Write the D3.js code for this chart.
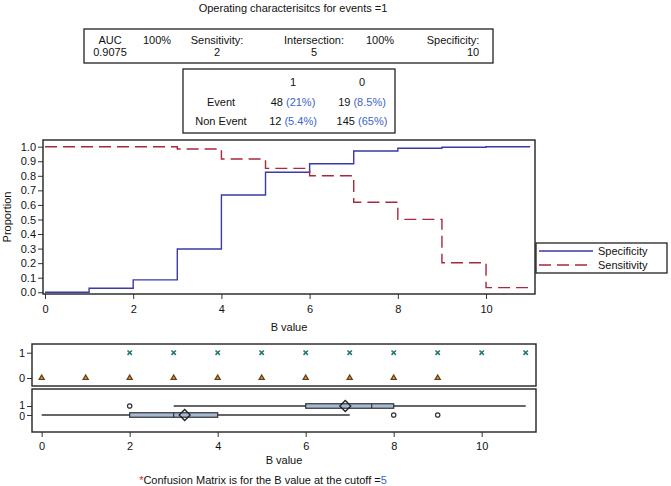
<!DOCTYPE html>
<html><head><meta charset="utf-8">
<script src="https://cdn.jsdelivr.net/npm/d3@7"></script>
<style>
body{margin:0;background:#fff;}
text{font-family:"Liberation Sans",Arial,Helvetica,sans-serif;font-size:11px;fill:#111;}
</style></head>
<body><svg id="c" width="671" height="486"></svg>
<script>
// ---- data ----
const cutpoints = [0,1,2,3,4,5,6,7,8,9,10,11];
const specificity = [0.0,0.027,0.085,0.297,0.668,0.824,0.883,0.970,0.989,0.996,1.0];
const sensitivity = [1.0,1.0,1.0,0.984,0.915,0.851,0.80,0.618,0.501,0.203,0.032];
const yTicks = [0,0.1,0.2,0.3,0.4,0.5,0.6,0.7,0.8,0.9,1.0];
const xTicks = [0,2,4,6,8,10];
const eventValues = [2,3,4,5,6,7,8,9,10,11];     // group 1 observed B values
const nonEventValues = [0,1,2,3,4,5,6,7,8,9];    // group 0 observed B values
const groups = ["1","0"];
const boxStats = [
  {g:1, min:3, q1:6, med:7.5, q3:8, max:11, mean:6.9, outliers:[2]},
  {g:0, min:0, q1:2, med:3, q3:4, max:7, mean:3.25, outliers:[8,9]}
];
const aucRow1 = ["AUC","100%","Sensitivity:","Intersection:","100%","Specificity:"];
const aucRow2 = ["0.9075","","2","5","","10"];
const cmHeader = ["","1","0"];
const cmRows = [
  {label:"Event", cells:[["48","21%"],["19","8.5%"]]},
  {label:"Non Event", cells:[["12","5.4%"],["145","65%"]]}
];
const legendItems = ["Specificity","Sensitivity"];
const cutoff = 5;

const svg = d3.select("#c");
const blue="#3a3aa8", red="#a8283c", txtBlue="#3c64c8";

// ---- title ----
svg.append("text").attr("x",293).attr("y",12).attr("text-anchor","middle")
  .text("Operating characterisitcs for events =1");

// ---- AUC box ----
svg.append("rect").attr("x",84).attr("y",29).attr("width",409).attr("height",34)
  .attr("fill","none").attr("stroke","#222").attr("stroke-width",1.3);
const aucX1 = [110,157,217,314,380,453];
const aucX2 = [110,157,217,314,380,473];
aucRow1.forEach((t,i)=>svg.append("text").attr("x",aucX1[i]).attr("y",44).attr("text-anchor","middle").text(t));
aucRow2.forEach((t,i)=>{ if(t) svg.append("text").attr("x",aucX2[i]).attr("y",56).attr("text-anchor","middle").text(t);});

// ---- confusion matrix ----
svg.append("rect").attr("x",183).attr("y",69).attr("width",212).attr("height",64)
  .attr("fill","none").attr("stroke","#222").attr("stroke-width",1.3);
const cmX=[221,293,362];
cmHeader.forEach((t,i)=>{ if(t) svg.append("text").attr("x",cmX[i]).attr("y",86).attr("text-anchor","middle").text(t);});
cmRows.forEach((r,ri)=>{
  const y = 106 + ri*18.5;
  svg.append("text").attr("x",cmX[0]).attr("y",y).attr("text-anchor","middle").text(r.label);
  r.cells.forEach((c,ci)=>{
    const t = svg.append("text").attr("x",cmX[ci+1]).attr("y",y).attr("text-anchor","middle");
    t.append("tspan").text(c[0]+" ");
    t.append("tspan").style("fill",txtBlue).text("("+c[1]+")");
  });
});

// ---- main plot ----
const x = d3.scaleLinear().domain([-0.045,11.11]).range([43,535]);
const y = d3.scaleLinear().domain([-0.012,1.046]).range([294,140]);
const gx = svg.append("g").attr("transform","translate(0,294)")
  .call(d3.axisBottom(x).tickValues(xTicks).tickFormat(d3.format("d")).tickSizeOuter(0).tickSize(5).tickPadding(4));
const gy = svg.append("g").attr("transform","translate(43,0)")
  .call(d3.axisLeft(y).tickValues(yTicks).tickFormat(d3.format(".1f")).tickSizeOuter(0).tickSize(5).tickPadding(2));
[gx,gy].forEach(g=>{g.select(".domain").remove();g.selectAll("line").attr("stroke","#333");g.selectAll("text").style("font-size","11px").attr("fill","#111");});
gx.selectAll("text").attr("dy","0.9em");

const stepData = arr => arr.map((v,i)=>[cutpoints[i],v]).concat([[cutpoints[arr.length],arr[arr.length-1]]]);
const line = d3.line().x(d=>x(d[0])).y(d=>y(d[1])).curve(d3.curveStepAfter);
svg.append("path").attr("d",line(stepData(specificity))).attr("fill","none").attr("stroke",blue).attr("stroke-width",1.4);
svg.append("path").attr("d",line(stepData(sensitivity))).attr("fill","none").attr("stroke",red).attr("stroke-width",1.4).attr("stroke-dasharray","12,6");
svg.append("rect").attr("x",43).attr("y",140).attr("width",492).attr("height",154)
  .attr("fill","none").attr("stroke","#222").attr("stroke-width",1.4);
svg.append("text").attr("transform","translate(11,217) rotate(-90)").attr("text-anchor","middle").text("Proportion");
svg.append("text").attr("x",289).attr("y",331).attr("text-anchor","middle").text("B value");

// legend
svg.append("rect").attr("x",536).attr("y",243).attr("width",131).attr("height",30)
  .attr("fill","#fff").attr("stroke","#222").attr("stroke-width",1.3);
legendItems.forEach((t,i)=>{
  const ly = 251 + i*14;
  svg.append("line").attr("x1",539).attr("x2",593).attr("y1",ly).attr("y2",ly)
    .attr("stroke",i?red:blue).attr("stroke-width",1.4).attr("stroke-dasharray",i?"12,6":null);
  svg.append("text").attr("x",598).attr("y",ly+4).text(t);
});

// ---- bottom panels ----
const xb = d3.scaleLinear().domain([-0.22,11.234]).range([32,536]);
// scatter panel
const ys = d3.scaleLinear().domain([-0.316,1.344]).range([386,344]);
const gys = svg.append("g").attr("transform","translate(32,0)")
  .call(d3.axisLeft(ys).tickValues([1,0]).tickFormat(d=>groups[1-d]).tickSizeOuter(0).tickSize(5).tickPadding(2));
gys.select(".domain").remove(); gys.selectAll("line").attr("stroke","#333"); gys.selectAll("text").style("font-size","11px");
const cross = d3.symbol().type(d3.symbolX).size(14);
svg.append("g").selectAll("path").data(eventValues).join("path")
  .attr("transform",d=>`translate(${xb(d)},${ys(1)})`).attr("d",cross)
  .attr("fill","none").attr("stroke","#1f7a76").attr("stroke-width",1.6);
const tri = d3.symbol().type(d3.symbolTriangle).size(11);
svg.append("g").selectAll("path").data(nonEventValues).join("path")
  .attr("transform",d=>`translate(${xb(d)},${ys(0)})`).attr("d",tri)
  .attr("fill","#d8b070").attr("stroke","#6b3d12").attr("stroke-width",1.3);
svg.append("rect").attr("x",32).attr("y",344).attr("width",504).attr("height",42)
  .attr("fill","none").attr("stroke","#222").attr("stroke-width",1.4);

// box panel
const yb = d3.scaleLinear().domain([-1.89,2.89]).range([432,389]);
const gyb = svg.append("g").attr("transform","translate(32,0)")
  .call(d3.axisLeft(yb).tickValues([1,0]).tickFormat(d=>groups[1-d]).tickSizeOuter(0).tickSize(5).tickPadding(2));
gyb.select(".domain").remove(); gyb.selectAll("line").attr("stroke","#333");
gyb.selectAll("text").style("font-size","10.5px").attr("dy",(d)=>d===1?"0.2em":"0.45em");
boxStats.forEach(b=>{
  const cy = yb(b.g), h=4.5;
  const g = svg.append("g");
  g.append("line").attr("x1",xb(b.min)).attr("x2",xb(b.max)).attr("y1",cy).attr("y2",cy).attr("stroke","#333").attr("stroke-width",1.5);
  g.append("rect").attr("x",xb(b.q1)).attr("y",cy-h/2).attr("width",xb(b.q3)-xb(b.q1)).attr("height",h)
    .attr("fill","#a6bad6").attr("stroke","#333").attr("stroke-width",1.2);
  g.append("line").attr("x1",xb(b.med)).attr("x2",xb(b.med)).attr("y1",cy-h/2).attr("y2",cy+h/2).attr("stroke","#333").attr("stroke-width",1.2);
  const mx=xb(b.mean), s=5.5;
  g.append("path").attr("d",`M${mx-s},${cy}L${mx},${cy-s}L${mx+s},${cy}L${mx},${cy+s}Z`)
    .attr("fill","none").attr("stroke","#222").attr("stroke-width",1.3);
  b.outliers.forEach(o=>g.append("circle").attr("cx",xb(o)).attr("cy",cy).attr("r",2.2)
    .attr("fill","#fff").attr("stroke","#333").attr("stroke-width",1.2));
});
svg.append("rect").attr("x",32).attr("y",389).attr("width",504).attr("height",43)
  .attr("fill","none").attr("stroke","#222").attr("stroke-width",1.4);
const gxb = svg.append("g").attr("transform","translate(0,432)")
  .call(d3.axisBottom(xb).tickValues(xTicks).tickFormat(d3.format("d")).tickSizeOuter(0).tickSize(5).tickPadding(3));
gxb.select(".domain").remove(); gxb.selectAll("line").attr("stroke","#333"); gxb.selectAll("text").style("font-size","11px").attr("dy","0.9em");
svg.append("text").attr("x",284).attr("y",464).attr("text-anchor","middle").text("B value");

// footnote
const fn = svg.append("text").attr("x",263).attr("y",484).attr("text-anchor","middle");
fn.append("tspan").style("fill","#e02020").text("*");
fn.append("tspan").text("Confusion Matrix is for the B value at the cutoff =");
fn.append("tspan").style("fill",txtBlue).text(cutoff);
</script></body></html>
